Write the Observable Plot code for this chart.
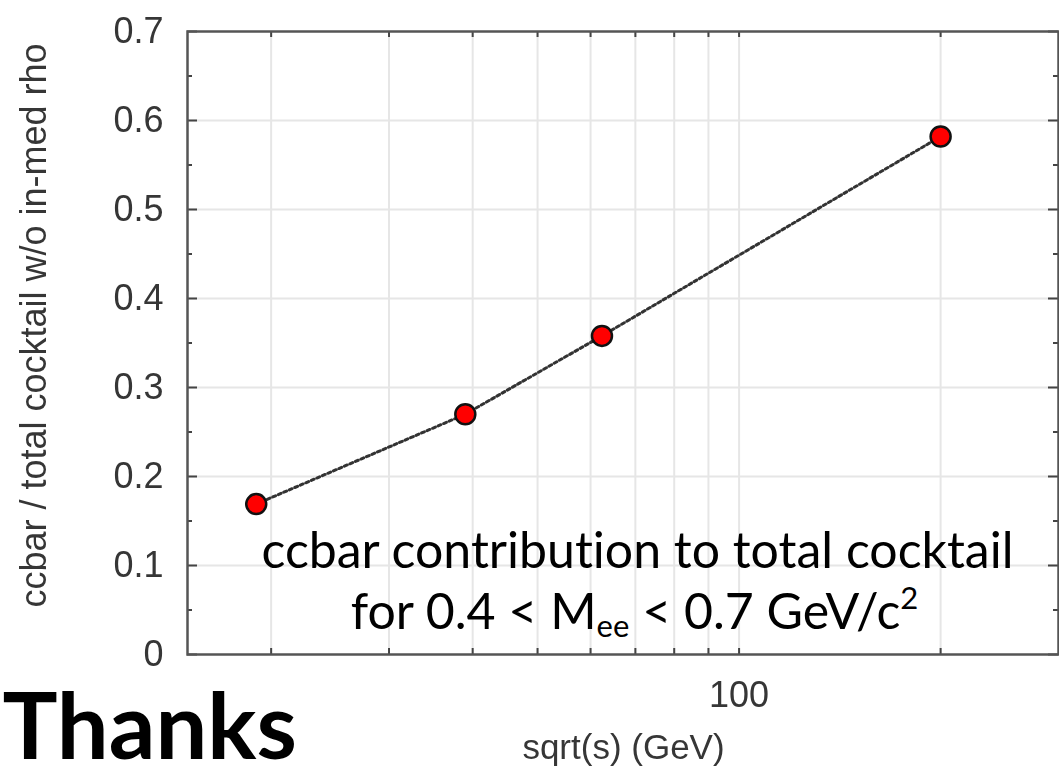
<!DOCTYPE html>
<html>
<head>
<meta charset="utf-8">
<script src="https://cdn.jsdelivr.net/npm/d3@7"></script>
<script src="https://cdn.jsdelivr.net/npm/@observablehq/plot@0.6"></script>
<style>
  html, body { margin: 0; padding: 0; background: #fff; }
  #chart svg { display: block; }
  #chart text { font-variant-ligatures: none; }
</style>
</head>
<body>
<div id="chart"></div>
<script>
// Collision energies (GeV) and the ccbar share of the dielectron cocktail
const sqrtS = [19, 39, 62.4, 200];
const ccbarFraction = [0.169, 0.270, 0.358, 0.582];

// Axis ticks and grid
const yTicks = [0, 0.1, 0.2, 0.3, 0.4, 0.5, 0.6, 0.7];
const yMinorTicks = [0.05, 0.15, 0.25, 0.35, 0.45, 0.55, 0.65];
const xGrid = [20, 30, 40, 50, 60, 70, 80, 90, 100, 200];
const xTickLabels = [100];

// Texts
const xLabel = "sqrt(s) (GeV)";
const yLabel = "ccbar / total cocktail w/o in-med rho";
const noteLine1 = "ccbar contribution to total cocktail";
const noteLine2Parts = [
  {t: "for 0.4 < M", kind: "plain"},
  {t: "ee", kind: "sub"},
  {t: " < 0.7 GeV/c", kind: "plain"},
  {t: "2", kind: "sup"}
];
const noteLine2 = noteLine2Parts.map(p => p.t).join("");
const closing = "Thanks";

const points = sqrtS.map((s, i) => ({s, f: ccbarFraction[i]}));

const W = 1059, H = 768;
const ML = 187, MR = 1, MT = 31, MB = 114;
const FW = W - ML - MR, FH = H - MT - MB;
const axisFont = "'Liberation Sans', Arial, Helvetica, sans-serif";
const noteFont = "Lato, 'Open Sans', sans-serif";
const ink = "#363636";

// pixel-placed text helper: (px, py) is the text's vertical middle
const placed = (txt, px, py, opts) => Plot.text([txt], {
  frameAnchor: "top-left", lineAnchor: "middle", text: d => d,
  dx: px - ML, dy: py - MT, ...opts
});

const plot = Plot.plot({
  width: W,
  height: H,
  marginLeft: ML,
  marginRight: MR,
  marginTop: MT,
  marginBottom: MB,
  style: {fontFamily: axisFont, background: "#fff", overflow: "visible"},
  x: {type: "log", domain: [15, 300]},
  y: {domain: [0, 0.7]},
  marks: [
    // grid
    Plot.ruleY(yTicks.filter(d => d > 0 && d < 0.7), {y: d => d, stroke: "#e6e6e6", strokeWidth: 2}),
    Plot.ruleX(xGrid, {x: d => d, stroke: "#e6e6e6", strokeWidth: 2}),
    // inward ticks, left and right
    Plot.ruleY(yTicks, {y: d => d, insetRight: FW - 10, stroke: "#444", strokeWidth: 2}),
    Plot.ruleY(yMinorTicks, {y: d => d, insetRight: FW - 5, stroke: "#444", strokeWidth: 2}),
    Plot.ruleY(yTicks, {y: d => d, insetLeft: FW - 10, stroke: "#444", strokeWidth: 2}),
    Plot.ruleY(yMinorTicks, {y: d => d, insetLeft: FW - 5, stroke: "#444", strokeWidth: 2}),
    // inward ticks, bottom and top
    Plot.ruleX(xGrid, {x: d => d, insetTop: FH - 6, stroke: "#444", strokeWidth: 2}),
    Plot.ruleX(xGrid, {x: d => d, insetBottom: FH - 6, stroke: "#444", strokeWidth: 2}),
    Plot.frame({stroke: "#555", strokeWidth: 2.5}),
    // tick labels
    Plot.axisY(yTicks, {
      tickSize: 0, tickPadding: 24, fontSize: 36, fill: ink, label: null,
      tickFormat: d => (+d.toFixed(1)).toString()
    }),
    Plot.axisX(xTickLabels, {
      tickSize: 0, tickPadding: 27, fontSize: 36, fill: ink, label: null,
      tickFormat: d => String(d)
    }),
    // axis titles
    placed(xLabel, 623, 747, {fontSize: 35, fill: ink, textAnchor: "middle"}),
    placed(yLabel, 34, 325, {rotate: -90, fontSize: 36, fill: ink, textAnchor: "middle"}),
    // measured points joined by a dotted line
    Plot.line(points, {x: "s", y: "f", stroke: "#333", strokeWidth: 3, strokeDasharray: "3,3"}),
    Plot.dot(points, {x: "s", y: "f", r: 10, fill: "#ff0000", stroke: "#111", strokeWidth: 2.5}),
    // annotation
    placed(noteLine1, 637, 551, {fontSize: 50, fontFamily: noteFont, fill: "#000", textAnchor: "middle"}),
    placed(noteLine2, 634, 612, {fontSize: 50, fontFamily: noteFont, fill: "#000", textAnchor: "middle"}),
    // closing word of the slide
    placed(closing, 2, 729, {fontSize: 92, fontWeight: 700, fontFamily: noteFont, fill: "#000", textAnchor: "start"})
  ]
});

const svg = d3.select(plot);
const crisp = new Set([noteLine1, noteLine2, closing]);

// Rebuild the second annotation line with a subscript and a superscript
svg.selectAll("text").filter(function() { return this.textContent === noteLine2; }).each(function() {
  const t = d3.select(this);
  t.text(null);
  noteLine2Parts.forEach((p, i) => {
    const span = t.append("tspan").text(p.t);
    if (p.kind === "sub") span.attr("font-size", 31).attr("dy", 8);
    if (p.kind === "sup") span.attr("font-size", 31).attr("dy", -20);
    if (p.kind === "plain" && i > 0) span.attr("dy", -8);
  });
});

// The plotted panel is slightly soft, the slide text is crisp
svg.selectAll(":scope > g").each(function() {
  const texts = Array.from(this.querySelectorAll("text")).map(n => n.textContent);
  const isCrisp = texts.length && texts.every(s => crisp.has(s));
  const isLine = this.querySelector("path[stroke-dasharray]") !== null || this.getAttribute("stroke-dasharray") !== null;
  if (isLine) this.style.filter = "blur(0.3px)";
  else if (!isCrisp) this.style.filter = "blur(0.6px)";
});

document.getElementById("chart").appendChild(plot);
</script>
</body>
</html>
